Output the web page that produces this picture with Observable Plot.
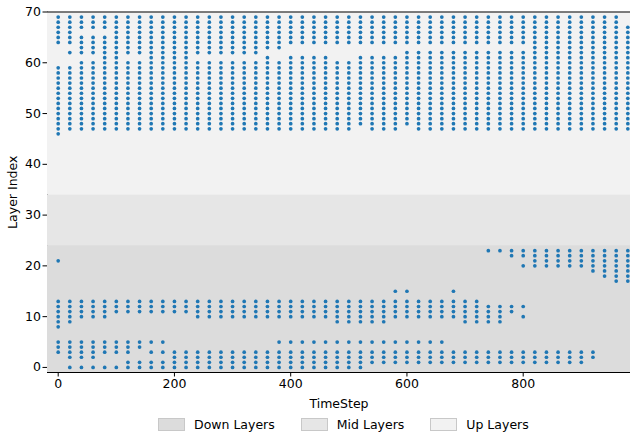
<!DOCTYPE html>
<html><head><meta charset="utf-8">
<script src="https://cdn.jsdelivr.net/npm/d3@7"></script>
<script src="https://cdn.jsdelivr.net/npm/@observablehq/plot@0.6"></script>
<style>
html,body{margin:0;padding:0;background:#fff;overflow:hidden;}
body{width:630px;height:435px;font-family:"DejaVu Sans",sans-serif;}
#legend{position:absolute;top:412px;left:0;width:630px;height:25px;display:flex;align-items:center;font-size:12.5px;color:#000;}
.item{display:flex;align-items:center;margin-right:26px;}
.sw{width:27px;height:13px;margin-right:9px;box-sizing:border-box;border:1px solid #c8c8c8;}
</style></head><body>
<div id="chart"></div>
<div id="legend"></div>
<script>
// Timesteps (one column of points per timestep)
const timesteps = [0,20,40,60,80,100,120,140,160,180,200,220,240,260,280,300,320,340,360,380,
  400,420,440,460,480,500,520,540,560,580,600,620,640,660,680,700,720,740,760,780,
  800,820,840,860,880,900,920,940,960,980];
// Active layer indices in the upper group, per timestep (ranges inclusive)
const upperLayers = [
  "46-59,64-69","47-59,62,64-69","47-60,62-65,67-69","47-60,62-65,67-69","47-65,67-69",
  "47-69","47-60,62-69","47-60,62-69","47-69","47-69",
  "47-69","47-69","47-60,62-69","47-60,62-69","47-60,62-69",
  "47-60,62-69","47-60,62-69","47-60,62-69","47-61,63-69","47-60,63-69",
  "47-61,64-69","47-61,64-69","47-61,64-69","47-61,64-69","47-60,64-69",
  "47-60,64-69","48-61,64-69","47-61,64-69","47-61,64-69","47-61,64-69",
  "48-62,64-69","47-62,64-69","47-62,64-69","47-62,64-69","47-62,64-69",
  "47-62,64-69","47-62,64-69","47-62,64-69","47-62,64-69","47-62,64-69",
  "47-62,64-69","47-69","47-69","47-69","47-69",
  "47-69","47-69","47-69","47-69","47-67"
];
// Active layer indices in the lower group, per timestep
const lowerLayers = [
  "3-5,8-13,21","0,2-5,9-13","0,2-5,10-13","0,2-5,10-13","0,3-5,10-13",
  "0,3-5,11-13","0-1,3-5,11-13","0-1,4-5,11-13","0-1,3,5,11-13","0-1,3,5,11-13",
  "0-3,11-13","0-3,11-13","0-3,10-13","0-3,10-13","0-3,10-13",
  "0-3,10-13","0-3,10-13","0-3,10-13","0-3,10-13","0-3,5,10-13",
  "0-3,5,10-13","0-3,5,10-13","0-3,5,10-13","0-3,5,10-13","0-3,5,9-13",
  "0-3,5,9-13","0-3,5,9-13","1-3,5,9-13","1-3,5,9-13","1-3,5,10-13,15",
  "1-3,5,10-13,15","1-3,5,10-13","1-3,5,10-13","1-3,5,10-13","1-3,10-13,15",
  "1-3,9-13","1-3,9-13","1-3,9-12,23","1-3,9-12,23","1-3,11-12,22-23",
  "1-3,10,12,20,22-23","1-3,20-23","1-3,20-23","1-3,20-23","1-3,20-23",
  "1-3,20-23","2-3,19-23","18-23","17-23","17-23"
];
// Background layer groups
const bandNames = ["Down Layers","Mid Layers","Up Layers"];
const bandLow = [-1,24,34];
const bandHigh = [24,34,70];
const bandColors = ["#dcdcdc","#e6e6e6","#f2f2f2"];
const xTicks = [0,200,400,600,800];
const yTicks = [0,10,20,30,40,50,60,70];
const xDomain = [-18.4,984.6];
const yDomain = [-1,70];

function expand(s){
  const out=[];
  s.split(",").forEach(p=>{
    const [a,b]=p.split("-").map(Number);
    if(b===undefined) out.push(a); else for(let v=a;v<=b;v++) out.push(v);
  });
  return out;
}
const points=[];
timesteps.forEach((t,i)=>{
  expand(upperLayers[i]).forEach(l=>points.push({t,layer:l}));
  expand(lowerLayers[i]).forEach(l=>points.push({t,layer:l}));
});
const bands = bandNames.map((n,i)=>({name:n,lo:bandLow[i],hi:bandHigh[i],color:bandColors[i]}));

const chart = Plot.plot({
  width:630, height:410,
  marginLeft:47, marginRight:0, marginTop:11.5, marginBottom:38,
  style:{fontFamily:"DejaVu Sans, sans-serif", fontSize:"12.5px", color:"#000", background:"transparent", overflow:"visible"},
  x:{domain:xDomain, ticks:xTicks, tickSize:4.5, tickPadding:2.5, line:true, label:"TimeStep", labelAnchor:"center", labelArrow:"none", labelOffset:35},
  y:{domain:yDomain, ticks:yTicks, tickSize:4.5, tickPadding:2, line:true, label:"Layer Index", labelAnchor:"center", labelArrow:"none", labelOffset:39},
  marks:[
    Plot.rect(bands,{y1:"lo", y2:"hi", fill:"color"}),
    Plot.dot(points,{x:"t", y:"layer", r:1.85, fill:"#1f77b4", stroke:null}),
    Plot.ruleY([yDomain[1]],{stroke:"#000", strokeWidth:1})
  ]
});
document.getElementById("chart").appendChild(chart);

const leg=document.getElementById("legend");
leg.style.paddingLeft="158px";
bands.forEach(b=>{
  const it=document.createElement("div"); it.className="item";
  const sw=document.createElement("div"); sw.className="sw"; sw.style.background=b.color;
  const tx=document.createElement("span"); tx.textContent=b.name;
  it.appendChild(sw); it.appendChild(tx); leg.appendChild(it);
});
</script>
</body></html>
